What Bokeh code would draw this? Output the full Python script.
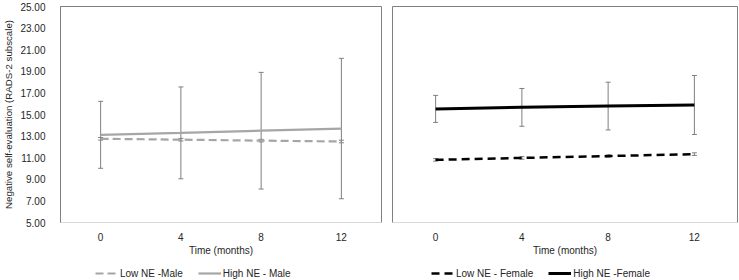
from bokeh.plotting import figure
from bokeh.layouts import row, column
from bokeh.models import (ColumnDataSource, Whisker, TeeHead, Legend, LegendItem,
                          FixedTicker, NumeralTickFormatter)
from bokeh.embed import file_html
from bokeh.resources import INLINE

# Time points (months) shown as categories
months = ["0", "4", "8", "12"]

# Male group: means and error half-widths
low_male = [12.75, 12.67, 12.58, 12.50]
low_male_err = [0.12, 0.12, 0.12, 0.12]
high_male = [13.12, 13.30, 13.50, 13.70]
high_male_err = [3.10, 4.25, 5.40, 6.50]

# Female group: means and error half-widths
low_female = [10.80, 10.98, 11.15, 11.33]
low_female_err = [0.12, 0.12, 0.12, 0.12]
high_female = [15.52, 15.66, 15.78, 15.88]
high_female_err = [1.25, 1.75, 2.21, 2.73]

y_ticks = [5, 7, 9, 11, 13, 15, 17, 19, 21, 23, 25]

FONT = "Liberation Sans"
TEXT = "#262626"
ERR = "#7f7f7f"
MALE = "#a6a6a6"

# line styles shared by the chart panels and the legend strip
STYLE = {
    "low_male": dict(line_color=MALE, line_width=2.2, line_dash="8 4"),
    "high_male": dict(line_color=MALE, line_width=2.2),
    "low_female": dict(line_color="black", line_width=2.5, line_dash="8 5"),
    "high_female": dict(line_color="black", line_width=3),
}


def make_source(means, errs):
    return ColumnDataSource(dict(
        x=months, y=means,
        lower=[m - e for m, e in zip(means, errs)],
        upper=[m + e for m, e in zip(means, errs)],
    ))


def make_panel(width, left, right, show_y):
    p = figure(x_range=months, y_range=(5, 25), width=width, height=258,
               output_backend="svg", toolbar_location=None,
               min_border_left=left, min_border_right=right,
               min_border_top=6, min_border_bottom=35)
    p.background_fill_color = "white"
    p.border_fill_color = "white"
    p.outline_line_color = "#808080"
    p.outline_line_width = 1
    p.grid.grid_line_color = None
    p.x_range.range_padding = 0

    xa = p.xaxis[0]
    xa.axis_label = "Time (months)"
    xa.axis_label_text_font = FONT
    xa.axis_label_text_font_style = "normal"
    xa.axis_label_text_font_size = "10px"
    xa.axis_label_text_color = TEXT
    xa.axis_label_standoff = 1
    xa.axis_line_color = "#d9d9d9"
    xa.major_tick_line_color = None
    xa.minor_tick_line_color = None
    xa.major_label_text_font = FONT
    xa.major_label_text_font_size = "10px"
    xa.major_label_text_color = TEXT
    xa.major_label_standoff = 4

    ya = p.yaxis[0]
    ya.ticker = FixedTicker(ticks=y_ticks)
    ya.formatter = NumeralTickFormatter(format="0.00")
    ya.axis_line_color = "#808080"
    ya.major_tick_line_color = None
    ya.minor_tick_line_color = None
    if show_y:
        ya.axis_label = "Negative self-evaluation (RADS-2 subscale)"
        ya.axis_label_text_font = FONT
        ya.axis_label_text_font_style = "normal"
        ya.axis_label_text_font_size = "9.7px"
        ya.axis_label_text_color = TEXT
        ya.axis_label_standoff = 3
        ya.major_label_text_font = FONT
        ya.major_label_text_font_size = "10px"
        ya.major_label_text_color = TEXT
        ya.major_label_standoff = 9
    else:
        ya.visible = False
    return p


def add_errors(p, src):
    p.add_layout(Whisker(source=src, base="x", lower="lower", upper="upper",
                         line_color=ERR, line_width=1,
                         upper_head=TeeHead(size=5, line_color=ERR, line_width=1),
                         lower_head=TeeHead(size=5, line_color=ERR, line_width=1)))


def legend_strip(width, entries, x_off):
    """A thin strip under a panel that only shows its horizontal legend.

    The series are attached with a y range below all values, so only the
    legend keys are visible here."""
    lp = figure(width=width, height=22, output_backend="svg",
                x_range=months, y_range=(0, 1),
                toolbar_location=None, x_axis_location=None,
                y_axis_location=None, min_border=0)
    lp.outline_line_color = None
    lp.grid.grid_line_color = None
    lp.background_fill_color = "white"
    lp.border_fill_color = "white"
    items = []
    for label, src, key in entries:
        r = lp.line("x", "y", source=src, **STYLE[key])
        items.append(LegendItem(label=label, renderers=[r]))
    leg = Legend(items=items, orientation="horizontal", location=(x_off, 1),
                 border_line_color=None, background_fill_alpha=0,
                 padding=0, margin=0, spacing=15, glyph_width=23,
                 glyph_height=12, label_height=12, label_standoff=2,
                 label_text_font=FONT, label_text_font_size="10px",
                 label_text_color=TEXT)
    lp.add_layout(leg, "center")
    return lp


# Male panel
p1 = make_panel(386, 49, 5, True)
s_lm = make_source(low_male, low_male_err)
s_hm = make_source(high_male, high_male_err)
add_errors(p1, s_hm)
add_errors(p1, s_lm)
p1.line("x", "y", source=s_lm, **STYLE["low_male"])
p1.line("x", "y", source=s_hm, **STYLE["high_male"])

# Female panel
p2 = make_panel(353, 6, 2, False)
s_lf = make_source(low_female, low_female_err)
s_hf = make_source(high_female, high_female_err)
add_errors(p2, s_hf)
add_errors(p2, s_lf)
p2.line("x", "y", source=s_lf, **STYLE["low_female"])
p2.line("x", "y", source=s_hf, **STYLE["high_female"])

l1 = legend_strip(386, [("Low NE -Male", s_lm, "low_male"),
                        ("High NE - Male", s_hm, "high_male")], 95)
l2 = legend_strip(353, [("Low NE - Female", s_lf, "low_female"),
                        ("High NE -Female", s_hf, "high_female")], 45)

layout = column(row(p1, p2, spacing=0), row(l1, l2, spacing=0), spacing=0)
open("out.html", "w").write(file_html(layout, INLINE))
